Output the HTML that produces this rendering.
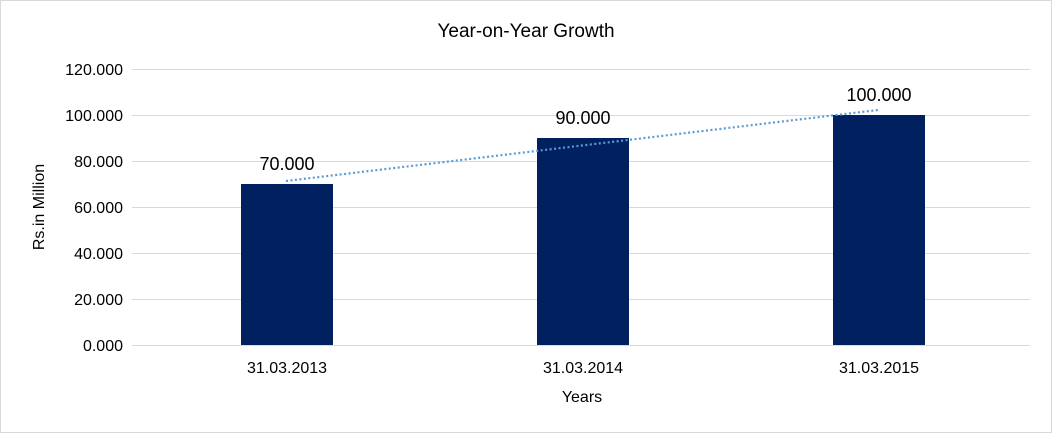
<!DOCTYPE html>
<html><head><style>
body{margin:0;background:#fff}
svg text{font-family:"Liberation Sans",Arial,sans-serif;fill:#000}
</style></head><body>
<svg width="1052" height="433" viewBox="0 0 1052 433" xmlns="http://www.w3.org/2000/svg">
<rect x="0.5" y="0.5" width="1051" height="432" fill="#fff" stroke="#d9d9d9"/>
<text x="526" y="37" font-size="19" text-anchor="middle">Year-on-Year Growth</text>
<g stroke="#d9d9d9" stroke-width="1">
<line x1="132" y1="69.5" x2="1030" y2="69.5"/>
<line x1="132" y1="115.5" x2="1030" y2="115.5"/>
<line x1="132" y1="161.5" x2="1030" y2="161.5"/>
<line x1="132" y1="207.5" x2="1030" y2="207.5"/>
<line x1="132" y1="253.5" x2="1030" y2="253.5"/>
<line x1="132" y1="299.5" x2="1030" y2="299.5"/>
<line x1="132" y1="345.5" x2="1030" y2="345.5"/>
</g>
<g font-size="16" text-anchor="end">
<text x="123" y="75">120.000</text>
<text x="123" y="121">100.000</text>
<text x="123" y="167">80.000</text>
<text x="123" y="213">60.000</text>
<text x="123" y="259">40.000</text>
<text x="123" y="305">20.000</text>
<text x="123" y="351">0.000</text>
</g>
<text transform="translate(44,207) rotate(-90)" font-size="16" text-anchor="middle">Rs.in Million</text>
<g fill="#002060">
<rect x="241" y="184" width="92" height="161"/>
<rect x="537" y="138" width="92" height="207"/>
<rect x="833" y="115" width="92" height="230"/>
</g>
<line x1="286" y1="181" x2="878" y2="110" stroke="#5b9bd5" stroke-width="2.2" stroke-dasharray="2 2.5"/>
<g font-size="18" text-anchor="middle">
<text x="287" y="170">70.000</text>
<text x="583" y="124">90.000</text>
<text x="879" y="101">100.000</text>
</g>
<g font-size="16" text-anchor="middle">
<text x="287" y="373">31.03.2013</text>
<text x="583" y="373">31.03.2014</text>
<text x="879" y="373">31.03.2015</text>
<text x="582" y="402">Years</text>
</g>
</svg>
</body></html>
